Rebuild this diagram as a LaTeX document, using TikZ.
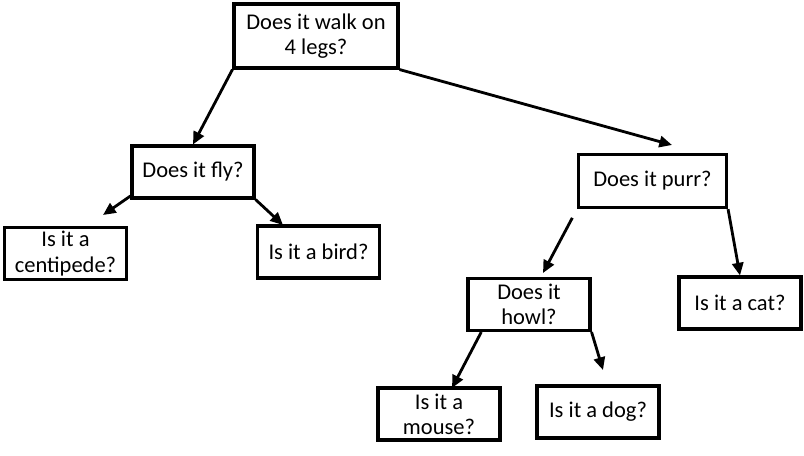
\documentclass[tikz,border=0pt]{standalone}
\usepackage{fontspec}
\setmainfont{Carlito}
\usepackage{tikz}
\usetikzlibrary{%
  arrows.meta
 ,calc
}
\tikzstyle{qbox}=[draw=black,line width=2.2pt,align=center,inner sep=2pt,
  minimum width=3.05cm,minimum height=1.3cm,font=\fontsize{16}{18}\selectfont]

\begin{document}
\begin{tikzpicture}[x=0.025cm,y=-0.025cm,%
  every edge/.style={draw,line width=2pt,-{Triangle[length=9pt,width=8pt]}}]
\useasboundingbox (0,0) rectangle (804,455);
\tikzstyle{wide} = [qbox,minimum width=4.1cm,minimum height=1.6cm]
\node[wide](walk)at(316,36){Does it walk on\\4 legs?};
\node[qbox](fly)at(193,172){Does it fly?};
\node[qbox](centi)at(65.5,253.5){Is it a\\centipede?};
\node[qbox](bird)at(318.5,252){Is it a bird?};
\node[qbox,minimum width=3.7cm,minimum height=1.33cm](purr)at(652.5,181){Does it purr?};
\node[qbox](howl)at(529,304.5){Does it\\howl?};
\node[qbox](cat)at(740,303){Is it a cat?};
\node[qbox](mouse)at(439,414){Is it a\\mouse?};
\node[qbox](dog)at(598,412){Is it a dog?};
% free arrow ends
\coordinate(purrin)at(672,145);
\coordinate(centiin)at(103,215);
\coordinate(birdin)at(283,225);
\coordinate(howlin)at(543,273);
\coordinate(mousein)at(452,388);
\coordinate(dogin)at(603,370);
\draw
  (walk.south west)edge(fly.north)
  (walk.south east)edge(purrin)
  (fly.201)edge(centiin)
  (fly.south east)edge(birdin)
  (purr.south west)edge[shorten <=7pt](howlin)
  (purr.south east)edge(cat.north)
  (howl.210)edge(mousein)
  (howl.south east)edge(dogin);
\end{tikzpicture}
\end{document}
